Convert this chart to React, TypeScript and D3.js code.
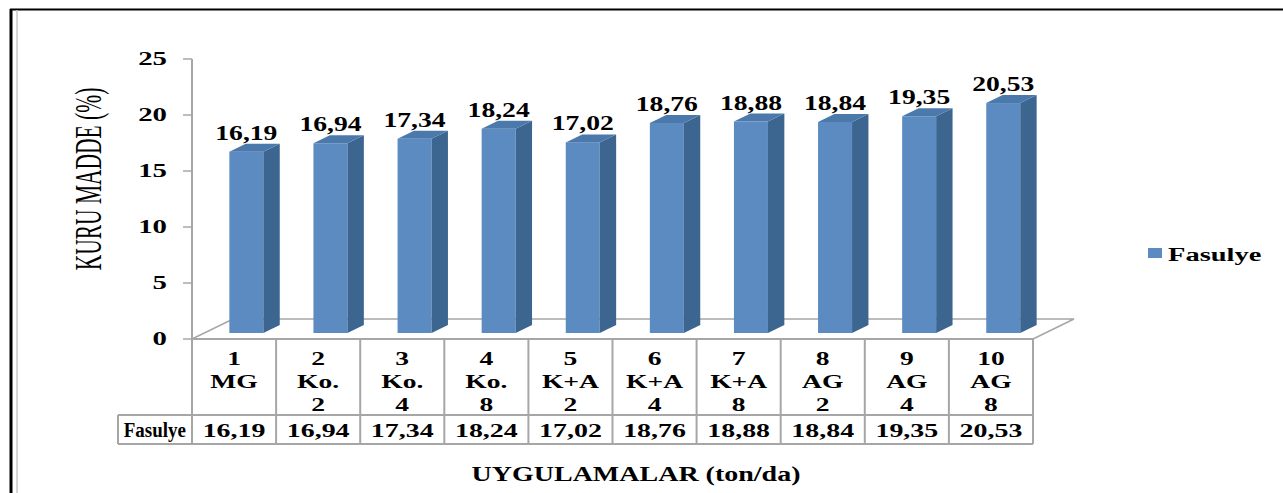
import React from "react";
import * as d3 from "d3";

const catNumbers = ["1", "2", "3", "4", "5", "6", "7", "8", "9", "10"];
const catGroups = ["MG", "Ko.", "Ko.", "Ko.", "K+A", "K+A", "K+A", "AG", "AG", "AG"];
const catDoses = ["", "2", "4", "8", "2", "4", "8", "2", "4", "8"];
const values = [16.19, 16.94, 17.34, 18.24, 17.02, 18.76, 18.88, 18.84, 19.35, 20.53];
const yTicks = [0, 5, 10, 15, 20, 25];
const seriesName = "Fasulye";
const yTitle = "KURU MADDE (%)";
const xTitle = "UYGULAMALAR (ton/da)";

const FONT = "'Liberation Serif', 'Times New Roman', serif";
const FRONT = "#5B8BC1";
const TOP = "#4C79AC";
const SIDE = "#3C6590";
const GRID = "#A6A6A6";

const fmt = (v: number) => v.toFixed(2).replace(".", ",");

function SText({ x, y, sx = 1.45, size = 19, anchor = "middle", bold = true, children }: any) {
  return (
    <text
      transform={`translate(${x},${y}) scale(${sx},1)`}
      textAnchor={anchor}
      fontFamily={FONT}
      fontWeight={bold ? "bold" : "normal"}
      fontSize={size}
      fill="#000"
    >
      {children}
    </text>
  );
}

export default function App() {
  const W = 1283, H = 493;
  const axisX = 192, plotRight = 1033;
  const y = d3.scaleLinear().domain([0, 25]).range([339, 59]);
  const x = d3.scaleBand<string>().domain(catNumbers).range([axisX, plotRight]).padding(0);
  const D = { dx: 41, dy: -20 };
  const f1 = 0.3, f2 = 0.7;
  const barW = 34;
  const row1Bottom = 415, row2Bottom = 444, tableLeft = 118;
  const floor0 = y(0);

  return (
    <svg width={W} height={H} style={{ position: "absolute", left: 0, top: 0 }}>
      <rect x={0} y={0} width={W} height={H} fill="#fff" />
      {/* outer frame */}
      <line x1={10} y1={9.5} x2={W} y2={9.5} stroke="#000" strokeWidth={2} />
      <line x1={11} y1={9} x2={11} y2={H} stroke="#000" strokeWidth={3} />
      <line x1={17} y1={10} x2={17} y2={H} stroke="#C8C8C8" strokeWidth={1.5} />

      {/* floor */}
      <path
        d={`M${axisX},${floor0} L${axisX + D.dx},${floor0 + D.dy} L${plotRight + D.dx},${floor0 + D.dy} L${plotRight},${floor0}`}
        fill="none"
        stroke={GRID}
        strokeWidth={1.5}
      />

      {/* y axis */}
      <line x1={axisX} y1={y(25)} x2={axisX} y2={floor0} stroke={GRID} strokeWidth={2} />
      {yTicks.map((t) => (
        <g key={t}>
          <line x1={axisX - 9} y1={y(t)} x2={axisX} y2={y(t)} stroke={GRID} strokeWidth={1.5} />
          <SText x={167} y={y(t) + 6} sx={1.6} size={18} anchor="end">{t}</SText>
        </g>
      ))}

      {/* bars */}
      {values.map((v, i) => {
        const cx = (x(catNumbers[i]) as number) + x.bandwidth() / 2;
        const fx0 = cx + D.dx * f1 - barW / 2;
        const fx1 = fx0 + barW;
        const fb = floor0 + D.dy * f1;
        const ft = y(v) + D.dy * f1;
        const ddx = D.dx * (f2 - f1), ddy = D.dy * (f2 - f1);
        return (
          <g key={i}>
            <rect x={fx0} y={ft} width={barW} height={fb - ft} fill={FRONT} />
            <path d={`M${fx1},${ft} L${fx1 + ddx},${ft + ddy} L${fx1 + ddx},${fb + ddy} L${fx1},${fb} Z`} fill={SIDE} />
            <path d={`M${fx0},${ft} L${fx0 + ddx},${ft + ddy} L${fx1 + ddx},${ft + ddy} L${fx1},${ft} Z`} fill={TOP} />
            <SText x={cx + D.dx * f1} y={ft + ddy - 4} sx={1.38} size={20}>{fmt(v)}</SText>
          </g>
        );
      })}

      {/* data table */}
      <g stroke={GRID} strokeWidth={2} fill="none">
        <line x1={axisX} y1={floor0} x2={plotRight} y2={floor0} />
        <line x1={tableLeft} y1={row1Bottom} x2={plotRight} y2={row1Bottom} />
        <line x1={tableLeft} y1={row2Bottom} x2={plotRight} y2={row2Bottom} />
        <line x1={tableLeft} y1={row1Bottom} x2={tableLeft} y2={row2Bottom} />
        {catNumbers.map((c) => (
          <line key={c} x1={x(c)} y1={floor0} x2={x(c)} y2={row2Bottom} />
        ))}
        <line x1={plotRight} y1={floor0} x2={plotRight} y2={row2Bottom} />
      </g>
      {catNumbers.map((c, i) => {
        const cx = (x(c) as number) + x.bandwidth() / 2;
        return (
          <g key={c}>
            <SText x={cx} y={365} sx={1.45} size={19}>{catNumbers[i]}</SText>
            <SText x={cx} y={388} sx={1.45} size={19}>{catGroups[i]}</SText>
            {catDoses[i] && <SText x={cx} y={411} sx={1.45} size={19}>{catDoses[i]}</SText>}
            <SText x={cx} y={437} sx={1.47} size={19}>{fmt(values[i])}</SText>
          </g>
        );
      })}
      <SText x={186} y={437} sx={0.95} size={20} anchor="end">{seriesName}</SText>

      {/* axis titles */}
      <text
        transform={`translate(101,179) scale(1.75,1) rotate(-90)`}
        textAnchor="middle"
        fontFamily={FONT}
        fontSize={21.5}
        fill="#000"
      >
        {yTitle}
      </text>
      <SText x={636} y={481} sx={1.4} size={20}>{xTitle}</SText>

      {/* legend */}
      <rect x={1148} y={248} width={14} height={10} fill={FRONT} />
      <SText x={1168} y={261} sx={1.5} size={19} anchor="start">{seriesName}</SText>
    </svg>
  );
}
